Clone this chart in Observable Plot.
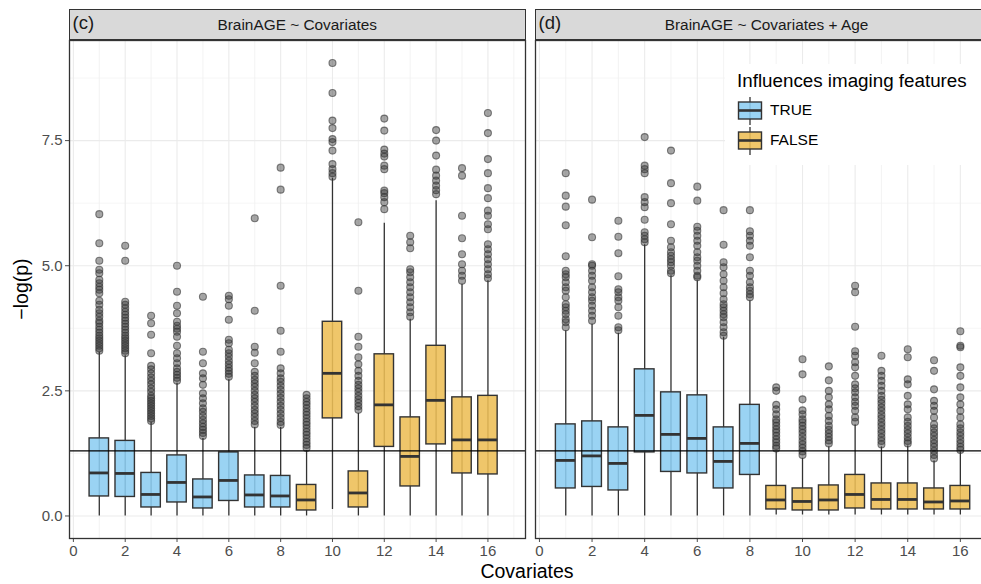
<!DOCTYPE html>
<html><head><meta charset="utf-8">
<script src="https://cdn.jsdelivr.net/npm/d3@7"></script>
<script src="https://cdn.jsdelivr.net/npm/@observablehq/plot@0.6"></script>
<style>
body{margin:0;background:#fff;}
#root{position:relative;width:981px;height:584px;overflow:hidden;font-family:"Liberation Sans",Arial,sans-serif;background:#fff;}
.strip{position:absolute;top:9px;height:31px;background:#d9d9d9;border:1.3px solid #333;box-sizing:border-box;}
.strip .tag{position:absolute;left:3px;top:2px;font-size:18.5px;color:#1a1a1a;}
.strip .ttl{position:absolute;left:0;right:0;top:6px;text-align:center;font-size:15.4px;color:#1a1a1a;}
.plot{position:absolute;}
#ytitle{position:absolute;left:21px;top:289px;transform:translate(-50%,-50%) rotate(-90deg);font-size:19.5px;white-space:nowrap;color:#000;}
#xtitle{position:absolute;left:527px;top:560px;transform:translateX(-50%);font-size:19.5px;color:#000;white-space:nowrap;}
#legend{position:absolute;left:725px;top:64px;width:260px;height:101px;background:#fff;}
#legend .lt{position:absolute;left:12px;top:6px;font-size:18.8px;color:#000;white-space:nowrap;}
#legend .ll{position:absolute;left:45px;font-size:15.5px;color:#000;}
</style></head>
<body><div id="root"></div>
<script>
// ---------- data ----------
const covariates = [1,2,3,4,5,6,7,8,9,10,11,12,13,14,15,16];
const influences = [true,true,true,true,true,true,true,true,false,false,false,false,false,false,false,false];
const yTicks = [0, 2.5, 5, 7.5];
const xTicks = [0,2,4,6,8,10,12,14,16];
const sigLine = 1.30;

// panel (c): BrainAGE ~ Covariates
const cLo  = [0,0,0,0,0,0,0,0,0,0.13,0,0,0,0,0,0];
const cQ1  = [0.39,0.38,0.17,0.27,0.15,0.30,0.17,0.17,0.11,1.95,0.17,1.38,0.59,1.43,0.85,0.83];
const cMed = [0.86,0.85,0.43,0.67,0.38,0.71,0.42,0.40,0.32,2.85,0.46,2.22,1.19,2.31,1.52,1.52];
const cQ3  = [1.55,1.50,0.86,1.21,0.73,1.27,0.81,0.80,0.62,3.88,0.89,3.23,1.97,3.40,2.37,2.40];
const cHi  = [3.27,3.20,1.87,2.65,1.55,2.72,1.77,1.77,1.30,6.75,2.05,5.85,3.93,6.30,4.63,4.70];
const cOut = [
  [6.03,5.45,5.10,4.92,4.85,4.72,4.65,4.58,4.52,4.45,4.30,4.22,4.12,4.05,3.98,3.90,3.85,3.78,3.72,3.66,3.60,3.55,3.50,3.45,3.40,3.35,3.30],
  [5.40,5.10,4.28,4.22,4.15,4.08,4.02,3.96,3.90,3.84,3.78,3.72,3.66,3.60,3.55,3.50,3.45,3.40,3.35,3.30,3.25],
  [4.00,3.85,3.62,3.25,3.00,2.93,2.85,2.77,2.70,2.63,2.55,2.48,2.40,2.35,2.30,2.25,2.20,2.15,2.10,2.05,2.00,1.95,1.90],
  [5.00,4.48,4.20,4.05,3.88,3.80,3.74,3.68,3.58,3.40,3.25,3.15,3.05,2.95,2.88,2.82,2.76,2.70],
  [4.38,3.28,3.05,2.85,2.75,2.62,2.45,2.35,2.25,2.15,2.08,2.00,1.92,1.85,1.78,1.72,1.66,1.60],
  [4.40,4.33,4.20,3.92,3.52,3.45,3.32,3.25,3.18,3.10,3.03,2.96,2.90,2.84,2.78],
  [5.95,4.10,3.38,3.26,3.05,2.88,2.80,2.72,2.65,2.58,2.50,2.42,2.35,2.28,2.20,2.12,2.05,1.98,1.90,1.83],
  [6.96,6.52,4.60,3.70,3.28,2.95,2.85,2.75,2.68,2.60,2.52,2.44,2.36,2.28,2.20,2.12,2.04,1.96,1.88,1.82],
  [2.42,2.35,2.28,2.22,2.15,2.08,2.02,1.95,1.88,1.82,1.75,1.68,1.62,1.55,1.48,1.42,1.36],
  [9.05,8.45,7.90,7.75,7.53,7.47,7.30,7.03,6.93,6.85,6.78],
  [5.87,4.50,3.58,3.38,3.17,3.03,2.90,2.80,2.70,2.62,2.55,2.48,2.40,2.33,2.26,2.19,2.12],
  [7.94,7.70,7.32,7.24,7.18,7.00,6.93,6.50,6.45,6.37,6.27,6.13],
  [5.60,5.47,5.35,4.93,4.87,4.77,4.67,4.57,4.47,4.37,4.27,4.17,4.07,3.98],
  [7.71,7.50,7.20,6.92,6.80,6.70,6.60,6.51,6.43],
  [6.95,6.80,6.00,5.55,5.23,5.03,4.90,4.80,4.70],
  [8.05,7.65,7.13,6.85,6.55,6.35,6.10,6.00,5.83,5.73,5.43,5.33,5.23,5.13,5.03,4.93,4.83,4.75]
];

// panel (d): BrainAGE ~ Covariates + Age
const dLo  = [0,0,0,0,0,0,0,0,0.02,0.02,0.02,0.02,0.02,0.02,0.02,0.02];
const dQ1  = [0.55,0.58,0.51,1.27,0.88,0.85,0.55,0.82,0.13,0.11,0.11,0.15,0.13,0.13,0.13,0.13];
const dMed = [1.11,1.20,1.05,2.01,1.63,1.55,1.09,1.45,0.32,0.29,0.32,0.43,0.33,0.33,0.28,0.30];
const dQ3  = [1.83,1.89,1.77,2.93,2.47,2.41,1.77,2.22,0.60,0.55,0.61,0.82,0.65,0.65,0.55,0.60];
const dHi  = [3.70,3.83,3.65,5.42,4.80,4.70,3.57,4.30,1.28,1.15,1.38,1.82,1.38,1.40,1.10,1.28];
const dOut = [
  [6.85,6.40,6.18,5.81,5.19,4.90,4.83,4.77,4.67,4.57,4.50,4.37,4.23,4.17,4.10,4.03,3.93,3.87,3.77],
  [6.32,5.57,5.03,5.00,4.90,4.80,4.70,4.57,4.47,4.37,4.30,4.20,4.10,4.00,3.90],
  [5.90,5.58,5.25,4.79,4.53,4.47,4.37,4.30,4.17,4.00,3.77,3.71],
  [7.57,7.00,6.93,6.85,6.37,6.27,6.17,5.92,5.67,5.60,5.53,5.47],
  [7.30,6.65,6.25,5.83,5.50,5.37,5.27,5.20,5.13,5.07,5.00,4.90,4.85],
  [6.58,6.30,5.78,5.70,5.60,5.50,5.40,5.27,5.17,5.10,5.00,4.90,4.80,4.77],
  [6.11,5.42,5.07,4.97,4.83,4.70,4.57,4.45,4.33,4.23,4.17,4.10,4.03,3.97,3.87,3.77,3.67,3.60],
  [6.11,5.69,5.60,5.50,5.40,5.17,4.90,4.80,4.67,4.57,4.50,4.43,4.37],
  [2.57,2.50,2.22,2.13,2.03,1.93,1.87,1.80,1.73,1.67,1.60,1.53,1.47,1.40,1.35],
  [3.13,2.83,2.33,2.11,2.03,1.93,1.87,1.80,1.73,1.66,1.58,1.50,1.43,1.36,1.29,1.22],
  [2.99,2.71,2.50,2.37,2.23,2.13,2.00,1.90,1.80,1.72,1.65,1.58,1.51,1.45],
  [4.60,4.47,3.78,3.29,3.20,3.07,2.97,2.80,2.63,2.55,2.47,2.37,2.28,2.20,2.10,1.97,1.88],
  [3.20,2.90,2.80,2.70,2.60,2.50,2.40,2.32,2.25,2.17,2.10,2.02,1.95,1.87,1.80,1.72,1.65,1.57,1.50,1.43],
  [3.33,3.17,2.73,2.63,2.40,2.23,2.13,1.97,1.88,1.80,1.72,1.65,1.57,1.50,1.45],
  [3.11,2.90,2.53,2.30,2.20,2.10,1.97,1.83,1.75,1.67,1.60,1.52,1.45,1.38,1.30,1.22,1.15],
  [3.69,3.40,3.37,2.97,2.80,2.57,2.37,2.23,2.10,1.97,1.83,1.75,1.67,1.60,1.52,1.45,1.38,1.32]
];

const colTrue = "#8CCDF1", colFalse = "#EDBE55";
const boxHalf = 0.375;

function rows(lo,q1,med,q3,hi){
  return covariates.map((c,i)=>({cov:c, lo:lo[i], q1:q1[i], med:med[i], q3:q3[i], hi:hi[i], inf:influences[i]}));
}
function outs(o){
  return o.flatMap((arr,i)=>arr.map(v=>({cov:covariates[i], v})));
}

const root = document.getElementById("root");

function panel(r, o, {showY, width, left, mL}){
  const marks = [
    Plot.gridY([1.25,3.75,6.25,8.75], {stroke:"#f2f2f2", strokeOpacity:1, strokeWidth:0.7}),
    Plot.gridX(d3.range(1,18,2), {stroke:"#f0f0f0", strokeOpacity:1, strokeWidth:0.8}),
    Plot.gridY(yTicks, {stroke:"#ebebeb", strokeOpacity:1, strokeWidth:1.1}),
    Plot.gridX(xTicks, {stroke:"#ebebeb", strokeOpacity:1, strokeWidth:1.1}),
    Plot.ruleX(r, {x:"cov", y1:"lo", y2:"hi", stroke:"#333", strokeWidth:1.3}),
    Plot.rect(r, {x1:d=>d.cov-boxHalf, x2:d=>d.cov+boxHalf, y1:"q1", y2:"q3",
      fill:d=>d.inf?colTrue:colFalse, fillOpacity:0.88, stroke:"#333", strokeWidth:1.4}),
    Plot.ruleY(r, {y:"med", x1:d=>d.cov-boxHalf, x2:d=>d.cov+boxHalf, stroke:"#333", strokeWidth:2.8}),
    Plot.dot(o, {x:"cov", y:"v", r:3.5, fill:"#3a3a3a", fillOpacity:0.45, stroke:"#333", strokeOpacity:0.6, strokeWidth:1.1}),
    Plot.ruleY([sigLine], {stroke:"#000", strokeWidth:1.4}),
    Plot.axisX(xTicks, {tickSize:4, tickPadding:3, fontSize:15, color:"#4d4d4d", label:null}),
  ];
  if (showY) marks.push(Plot.axisY(yTicks, {tickSize:4, tickPadding:3, fontSize:15, color:"#4d4d4d", tickFormat:d3.format(".1f"), label:null}));
  marks.push(Plot.frame({stroke:"#333", strokeWidth:1.3}));
  const p = Plot.plot({
    width, height:527, marginLeft:mL, marginRight:2, marginTop:1, marginBottom:28,
    x:{domain:[-0.15,17.45], axis:null},
    y:{domain:[-0.45,9.5], axis:null},
    style:{fontFamily:'"Liberation Sans",Arial,sans-serif', fontSize:"15px", background:"transparent", overflow:"visible"},
    marks
  });
  p.classList.add("plot");
  p.style.left = left+"px"; p.style.top = "39px";
  root.appendChild(p);
}

panel(rows(cLo,cQ1,cMed,cQ3,cHi), outs(cOut), {showY:true, width:527, left:0, mL:69});
panel(rows(dLo,dQ1,dMed,dQ3,dHi), outs(dOut), {showY:false, width:467, left:533, mL:2});

// strips
function strip(left, width, tag, title){
  const s = document.createElement("div");
  s.className = "strip";
  s.style.left = left+"px"; s.style.width = width+"px";
  s.innerHTML = `<span class="tag">${tag}</span><div class="ttl">${title}</div>`;
  root.appendChild(s);
}
strip(68.5, 457.5, "(c)", "BrainAGE ~ Covariates");
strip(534.5, 464, "(d)", "BrainAGE ~ Covariates + Age");

// titles
const yt = document.createElement("div"); yt.id="ytitle"; yt.textContent="\u2212log(p)"; root.appendChild(yt);
const xt = document.createElement("div"); xt.id="xtitle"; xt.textContent="Covariates"; root.appendChild(xt);

// legend
const lg = document.createElement("div"); lg.id="legend";
function key(col){
  return `<svg width="26" height="28" viewBox="0 0 26 28" style="display:block">
    <line x1="13" y1="0" x2="13" y2="28" stroke="#333" stroke-width="1.3"/>
    <rect x="1.5" y="5" width="23" height="17" fill="${col}" fill-opacity="0.88" stroke="#333" stroke-width="1.4"/>
    <line x1="1.5" y1="13.5" x2="24.5" y2="13.5" stroke="#333" stroke-width="2.6"/></svg>`;
}
lg.innerHTML = `<div class="lt">Influences imaging features</div>
  <div style="position:absolute;left:12px;top:33px">${key(colTrue)}</div>
  <div class="ll" style="top:37px">TRUE</div>
  <div style="position:absolute;left:12px;top:63px">${key(colFalse)}</div>
  <div class="ll" style="top:67px">FALSE</div>`;
root.appendChild(lg);
</script></body></html>
